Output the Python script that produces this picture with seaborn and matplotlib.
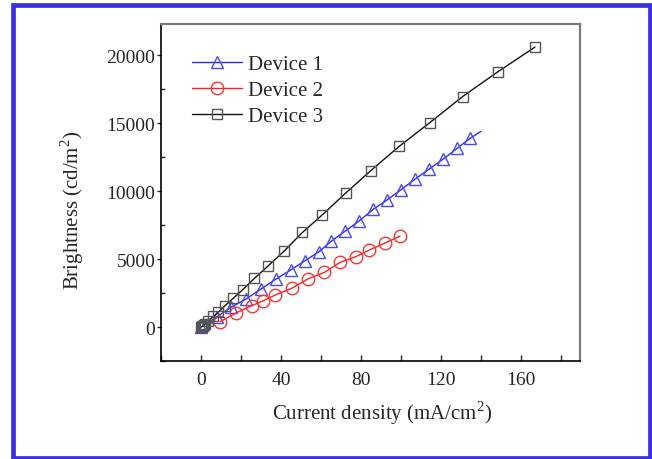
import numpy as np
import matplotlib
matplotlib.use("Agg")
import matplotlib.pyplot as plt
from matplotlib.patches import Rectangle
from matplotlib.lines import Line2D
from matplotlib.ticker import MultipleLocator
import seaborn as sns

# values
dev1_x = [0, 8, 15, 22.5, 30, 37.5, 45, 52, 59, 65, 72, 79, 86, 93, 100, 107, 114, 121, 128, 134.5]
dev1_y = [0, 750, 1450, 2060, 2800, 3530, 4210, 4880, 5540, 6300, 7050, 7800, 8650, 9350, 10100, 10880, 11620, 12350, 13140, 13880]
dev1_line_end = (140, 14400)

dev2_x = [9.5, 17.5, 25.3, 31.2, 37, 45.3, 53.3, 61.7, 69.5, 77.3, 84, 92, 99.5]
dev2_y = [390, 1030, 1570, 1935, 2350, 2845, 3530, 4020, 4755, 5170, 5660, 6180, 6690]

dev3_x = [0, 0.3, 0.6, 1.0, 1.5, 2.2, 3.7, 6.2, 8.7, 12, 16.2, 20.8, 26.7, 33.3, 41.7, 50.7, 60.7, 72.3, 84.8, 99, 114.5, 130.8, 148.3, 167]
dev3_y = [0, 20, 50, 90, 150, 250, 460, 790, 1080, 1570, 2130, 2740, 3580, 4460, 5610, 6960, 8260, 9853, 11495, 13287, 15050, 16960, 18772, 20600]

labels = ["Device 1", "Device 2", "Device 3"]

sns.set_style("ticks")
plt.rcParams['font.family'] = ['Liberation Serif', 'DejaVu Serif']
plt.rcParams['mathtext.fontset'] = 'custom'
plt.rcParams['mathtext.rm'] = 'Liberation Serif'

fig = plt.figure(figsize=(6.52, 4.60), dpi=100)
ax = fig.add_axes([161 / 652, 98 / 460, 419 / 652, 337 / 460])

blue_line, blue_mk = "#2a2aff", "#4a4aee"
red_line, red_mk = "#ff2020", "#ee3a3a"
blk_line, blk_mk = "#111111", "#555555"

# device 1: line runs a bit past the last marker
sns.lineplot(x=dev1_x + [dev1_line_end[0]], y=dev1_y + [dev1_line_end[1]], ax=ax,
             color=blue_line, lw=1.0, sort=False, estimator=None, legend=False)
sns.lineplot(x=dev1_x, y=dev1_y, ax=ax, color=blue_line, lw=0, marker='^', ms=9,
             mfc='none', mec=blue_mk, mew=1.0, sort=False, estimator=None, legend=False)

sns.lineplot(x=dev2_x, y=dev2_y, ax=ax, color=red_line, lw=1.0, marker='o', ms=9,
             mfc='none', mec=red_mk, mew=1.0, sort=False, estimator=None, legend=False)

sns.lineplot(x=dev3_x, y=dev3_y, ax=ax, color=blk_line, lw=1.0, marker='s', ms=7.5,
             mfc='none', mec=blk_mk, mew=1.0, sort=False, estimator=None, legend=False)

ax.set_xlim(-20, 189.5)
ax.set_ylim(-2500, 22300)
ax.xaxis.set_major_locator(MultipleLocator(40))
ax.xaxis.set_minor_locator(MultipleLocator(20))
ax.yaxis.set_major_locator(MultipleLocator(5000))
ax.yaxis.set_minor_locator(MultipleLocator(2500))
ax.tick_params(axis='x', which='both', direction='in', length=4, width=1, labelsize=14, pad=7)
ax.tick_params(axis='y', which='major', direction='out', length=3, width=1, labelsize=14, pad=1)
ax.tick_params(axis='y', which='minor', direction='in', length=3, width=1)

for side in ['left', 'bottom']:
    ax.spines[side].set_color('black')
    ax.spines[side].set_linewidth(1.2)
for side in ['top', 'right']:
    ax.spines[side].set_visible(True)
    ax.spines[side].set_color('#7a7a7a')
    ax.spines[side].set_linewidth(1.6)

ax.set_xlabel(r"Current density (mA/cm$^\mathregular{2}$)", fontsize=15)
ax.set_ylabel(r"Brightness (cd/m$^\mathregular{2}$)", fontsize=15)
ax.xaxis.set_label_coords(0.527, -0.112)
ax.yaxis.set_label_coords(-0.18, 0.45)

handles = [
    Line2D([], [], color=blue_line, lw=1.0, marker='^', ms=9, mfc='none', mec=blue_mk),
    Line2D([], [], color=red_line, lw=1.0, marker='o', ms=9, mfc='none', mec=red_mk),
    Line2D([], [], color=blk_line, lw=1.0, marker='s', ms=7.5, mfc='none', mec=blk_mk),
]
ax.legend(handles, labels, loc='upper left', bbox_to_anchor=(0.055, 0.934), frameon=False,
          fontsize=15, handlelength=2.4, handletextpad=0.25, labelspacing=0.3, borderaxespad=0)

# blue frame round the whole picture
fig.patches.append(Rectangle((12.5 / 652, 1.5 / 460), 637 / 652, 453 / 460, transform=fig.transFigure,
                             fill=False, edgecolor='#3a30e0', lw=3.4, zorder=10))

fig.savefig("out.png", dpi=100, facecolor='white')
